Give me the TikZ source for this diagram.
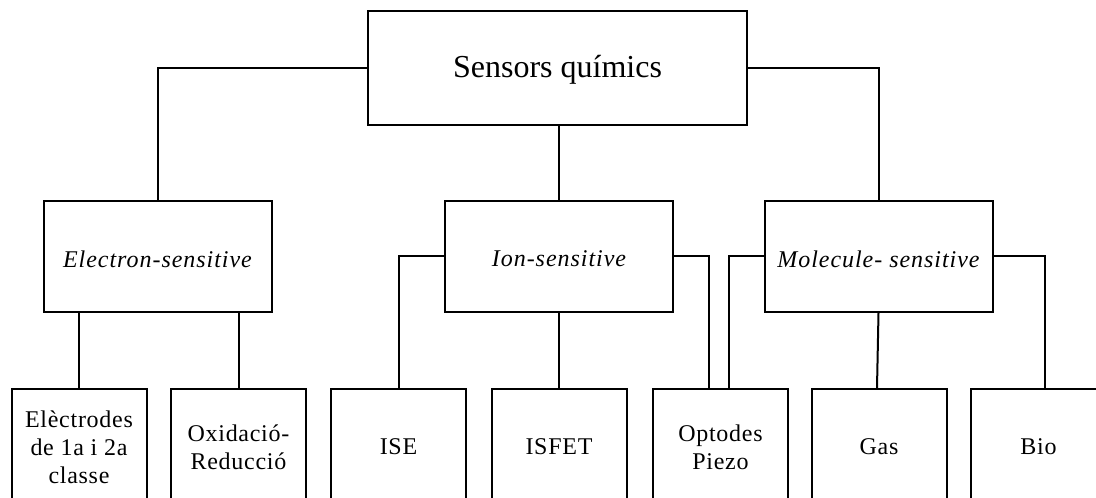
\documentclass[tikz,border=0pt]{standalone}
\usepackage{fontspec}
\setmainfont{Liberation Serif}
\newfontfamily\titlefont{Liberation Serif}
\newfontfamily\midfont[LetterSpace=4]{Liberation Serif}
\newfontfamily\botfont[LetterSpace=3]{Liberation Serif}
\newcommand{\lowertext}[2]{\raisebox{-#1}[\height][\depth]{#2}}
\begin{document}
\begin{tikzpicture}[x=1pt,y=1pt,
  box/.style={draw,line width=2pt,inner sep=0pt,align=center,anchor=center},
  topbox/.style={box,minimum width=379pt,minimum height=114pt,font=\titlefont\fontsize{32}{36}\selectfont},
  midbox/.style={box,minimum width=228pt,minimum height=111pt,font=\midfont\itshape\fontsize{24}{28}\selectfont},
  botbox/.style={box,minimum width=135pt,minimum height=116pt,font=\botfont\fontsize{24}{28}\selectfont},
  link/.style={line width=2pt}]
\useasboundingbox (0,0) rectangle (1096,498);
\clip (0,0) rectangle (1096,498);
\fill[white] (0,0) rectangle (1096,498);
% top
\node[topbox] (top) at (557.5,430) {\lowertext{2pt}{Sensors químics}};
% middle
\node[midbox] (el) at (157.5,241.5) {\lowertext{2.5pt}{Electron-sensitive}};
\node[midbox] (ion) at (559,241.5) {\lowertext{2.5pt}{Ion-sensitive}};
\node[midbox] (mol) at (878.5,241.5) {\lowertext{2.5pt}{Molecule- sensitive}};
% bottom
\node[botbox] (b1) at (79,51) {Elèctrodes\\de 1a i 2a\\classe};
\node[botbox] (b2) at (238.5,51) {Oxidació-\\Reducció};
\node[botbox] (b3) at (398.5,51) {ISE};
\node[botbox] (b4) at (559,51) {ISFET};
\node[botbox] (b5) at (720.5,51) {Optodes\\Piezo};
\node[botbox] (b6) at (879,51) {Gas};
\node[botbox] (b7) at (1038.5,51) {Bio};
% connector anchor points
\coordinate (b5l) at ([xshift=-11.5pt]b5.north);
\coordinate (b5r) at ([xshift=8.5pt]b5.north);
\coordinate (b6t) at ([xshift=-2pt]b6.north);
\coordinate (b7t) at ([xshift=6.5pt]b7.north);
% connectors
\draw[link] (top.west) -| (el.north);
\draw[link] (ion.north) -- (ion.north |- top.south);
\draw[link] (top.east) -| (mol.north);
\draw[link] (b1.north) -- (b1.north |- el.south);
\draw[link] (b2.north) -- (b2.north |- el.south);
\draw[link] (ion.west) -| (b3.north);
\draw[link] (ion.south) -- (b4.north);
\draw[link] (ion.east) -| (b5l);
\draw[link] (mol.west) -| (b5r);
\draw[link] (mol.south) -- (b6t);
\draw[link] (mol.east) -| (b7t);
\end{tikzpicture}
\end{document}
